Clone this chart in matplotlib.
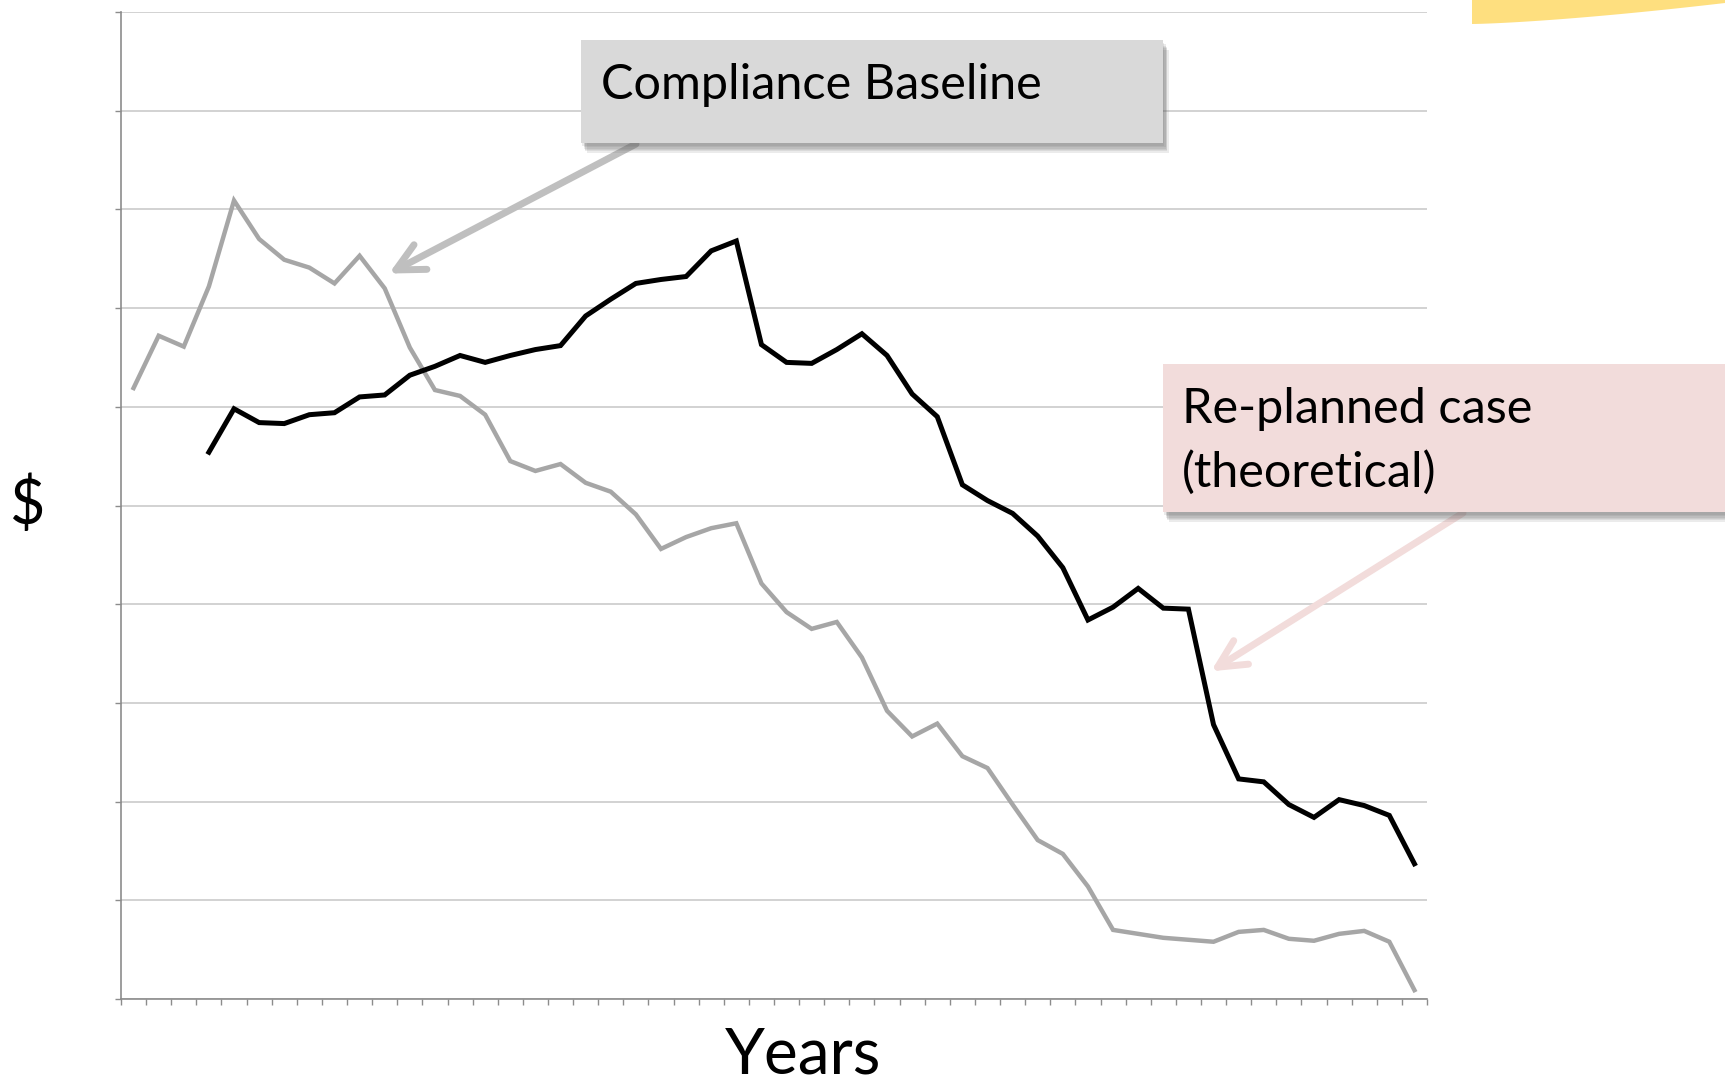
import numpy as np
import matplotlib.pyplot as plt
import matplotlib.patheffects as pe
from matplotlib.patches import Rectangle, Polygon

# values (units: gridlines 0..10)
n_years = 52
baseline = [6.19, 6.72, 6.61, 7.22, 8.09, 7.70, 7.49, 7.41, 7.25, 7.53,
            7.20, 6.60, 6.17, 6.11, 5.92, 5.45, 5.35, 5.42, 5.23, 5.14,
            4.91, 4.56, 4.68, 4.77, 4.82, 4.21, 3.92, 3.75, 3.82, 3.46,
            2.92, 2.66, 2.79, 2.46, 2.34, 1.97, 1.61, 1.47, 1.14, 0.70,
            0.66, 0.62, 0.60, 0.58, 0.68, 0.70, 0.61, 0.59, 0.66, 0.69,
            0.58, 0.09]
replanned_start = 3
replanned = [5.54, 5.98, 5.84, 5.83, 5.92, 5.94, 6.10, 6.12, 6.32, 6.41,
             6.52, 6.45, 6.52, 6.58, 6.62, 6.92, 7.09, 7.25, 7.29, 7.32,
             7.58, 7.68, 6.63, 6.45, 6.44, 6.58, 6.74, 6.52, 6.13, 5.90,
             5.21, 5.05, 4.92, 4.69, 4.37, 3.84, 3.97, 4.16, 3.96, 3.95,
             2.78, 2.23, 2.20, 1.97, 1.84, 2.02, 1.96, 1.86, 1.37]

W, H = 1725, 1082
FONT = "Lato"


def fx(px):
    return px / W


def fy(py):
    return 1 - py / H


fig = plt.figure(figsize=(W / 100, H / 100), dpi=100)
ax = fig.add_axes([fx(121), fy(999), fx(1427) - fx(121), fy(12) - fy(999)])

x_base = np.arange(n_years)
x_re = np.arange(replanned_start, replanned_start + len(replanned))

ax.plot(x_base, baseline, color="#a6a6a6", lw=3.2, zorder=3, solid_joinstyle="miter")
ax.plot(x_re, replanned, color="black", lw=3.6, zorder=4, solid_joinstyle="miter")

ax.set_xlim(-0.5, n_years - 0.5)
ax.set_ylim(0, 10)
ax.set_yticks(np.arange(0, 11))
ax.set_xticks(np.arange(-0.5, n_years, 1))
ax.set_xticklabels([])
ax.set_yticklabels([])
ax.tick_params(axis="both", direction="out", length=4, width=1, color="#8c8c8c")
ax.yaxis.grid(True, color="#c6c6c6", lw=1.1)
ax.set_axisbelow(True)
for side in ["top", "right"]:
    ax.spines[side].set_visible(False)
for side in ["left", "bottom"]:
    ax.spines[side].set_color("#8c8c8c")
    ax.spines[side].set_linewidth(1.2)

fig.text(fx(803), fy(1056), "Years", fontsize=46, family=FONT, ha="center", va="center")
fig.text(fx(27), fy(506), "$", fontsize=44, family=FONT, ha="center", va="center")

# arrows (drawn under the boxes)
arrow_style = "->,head_length=1.0,head_width=0.5"
ax.annotate("", xy=(10.17, 7.35), xycoords="data",
            xytext=(fx(636), fy(144)), textcoords="figure fraction",
            arrowprops=dict(arrowstyle=arrow_style, color="#bfbfbf", lw=5,
                            mutation_scale=20, shrinkA=0, shrinkB=0,
                            capstyle="round", joinstyle="round"),
            zorder=5, annotation_clip=False)
ax.annotate("", xy=(42.9, 3.32), xycoords="data",
            xytext=(fx(1463), fy(513)), textcoords="figure fraction",
            arrowprops=dict(arrowstyle=arrow_style, color="#f2dcdb", lw=5,
                            mutation_scale=20, shrinkA=0, shrinkB=0,
                            capstyle="round", joinstyle="round"),
            zorder=5, annotation_clip=False)

# soft drop shadow: a few stacked offsets
shadow = [pe.SimplePatchShadow(offset=(dx, dy), shadow_rgbFace="#606060", alpha=0.12)
          for dx, dy in [(1, -2), (2, -3), (2, -4), (3, -5), (3, -6), (4, -7)]]
shadow.append(pe.Normal())

box1 = Rectangle((fx(581), fy(143)), fx(1163) - fx(581), fy(40) - fy(143),
                 transform=fig.transFigure, facecolor="#d9d9d9", edgecolor="none", zorder=6)
box1.set_path_effects(shadow)
fig.add_artist(box1)
fig.text(fx(601), fy(85), "Compliance Baseline", fontsize=35, family=FONT,
         ha="left", va="center", zorder=7)

box2 = Rectangle((fx(1163), fy(512)), fx(1730) - fx(1163), fy(364) - fy(512),
                 transform=fig.transFigure, facecolor="#f2dcdb", edgecolor="none", zorder=6)
box2.set_path_effects(shadow)
fig.add_artist(box2)
fig.text(fx(1182), fy(441), "Re-planned case\n(theoretical)", fontsize=35, family=FONT,
         ha="left", va="center", linespacing=1.5, zorder=7)

# yellow decoration in the top-right corner
t = np.linspace(0, 1, 60)
curve_x = 1472 + t * (W - 1472)
curve_y = 24 - 21 * t ** 1.4
pts = [(fx(1472), fy(0))] + [(fx(a), fy(b)) for a, b in zip(curve_x, curve_y)] + [(fx(W), fy(0))]
fig.add_artist(Polygon(pts, closed=True, transform=fig.transFigure,
                       facecolor="#fedf7f", edgecolor="none", zorder=1))

fig.savefig("out.png", dpi=100)
